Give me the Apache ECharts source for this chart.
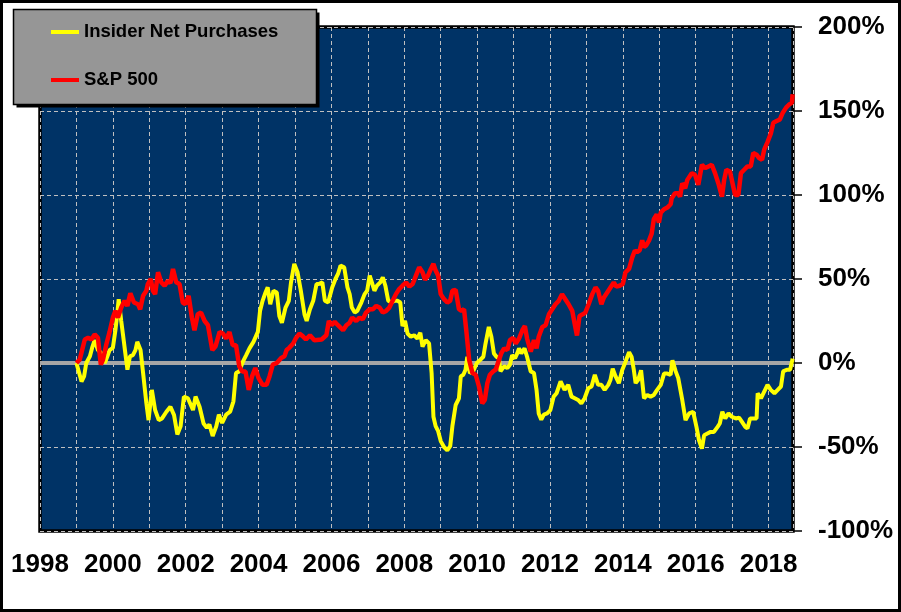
<!DOCTYPE html>
<html>
<head>
<meta charset="utf-8">
<title>Insider Net Purchases vs S&amp;P 500</title>
<script src="https://cdn.jsdelivr.net/npm/echarts@6/dist/echarts.min.js"></script>
<style>
  html, body { margin: 0; padding: 0; background: #fff; }
  #chart { width: 901px; height: 612px; }
</style>
</head>
<body>
<div id="chart"></div>
<script>
// x positions are decimal years, values are % change
var insiderDates = [
  1999.0, 1999.14, 1999.21, 1999.27, 1999.37, 1999.43, 1999.5, 1999.59, 1999.68, 1999.78,
  1999.85, 1999.91, 2000.0, 2000.07, 2000.12, 2000.16, 2000.23, 2000.32, 2000.4, 2000.47,
  2000.55, 2000.62, 2000.67, 2000.76, 2000.83, 2000.92, 2000.98, 2001.07, 2001.16, 2001.26,
  2001.35, 2001.47, 2001.58, 2001.68, 2001.77, 2001.86, 2001.95, 2002.06, 2002.1, 2002.2,
  2002.27, 2002.38, 2002.49, 2002.58, 2002.65, 2002.74, 2002.84, 2002.91, 2003.0, 2003.11,
  2003.22, 2003.31, 2003.38, 2003.47, 2003.57, 2003.66, 2003.75, 2003.86, 2003.98, 2004.04,
  2004.11, 2004.19, 2004.25, 2004.32, 2004.41, 2004.5, 2004.57, 2004.64, 2004.74, 2004.83,
  2004.89, 2004.98, 2005.07, 2005.16, 2005.26, 2005.32, 2005.41, 2005.5, 2005.59, 2005.65,
  2005.75, 2005.82, 2005.91, 2006.02, 2006.11, 2006.18, 2006.25, 2006.35, 2006.44, 2006.5,
  2006.56, 2006.64, 2006.71, 2006.82, 2006.91, 2006.98, 2007.05, 2007.11, 2007.18, 2007.25,
  2007.34, 2007.41, 2007.48, 2007.56, 2007.65, 2007.73, 2007.82, 2007.89, 2007.95, 2008.02,
  2008.09, 2008.18, 2008.27, 2008.36, 2008.44, 2008.5, 2008.59, 2008.68, 2008.75, 2008.8,
  2008.86, 2008.93, 2009.0, 2009.09, 2009.18, 2009.26, 2009.32, 2009.41, 2009.5, 2009.55,
  2009.62, 2009.68, 2009.73, 2009.8, 2009.89, 2009.99, 2010.08, 2010.17, 2010.23, 2010.32,
  2010.39, 2010.46, 2010.53, 2010.6, 2010.64, 2010.74, 2010.83, 2010.9, 2010.96, 2011.04,
  2011.1, 2011.15, 2011.21, 2011.3, 2011.37, 2011.47, 2011.56, 2011.63, 2011.69, 2011.76,
  2011.83, 2011.92, 2012.01, 2012.1, 2012.18, 2012.29, 2012.4, 2012.5, 2012.59, 2012.68,
  2012.77, 2012.86, 2012.95, 2013.05, 2013.14, 2013.23, 2013.32, 2013.41, 2013.5, 2013.6,
  2013.66, 2013.72, 2013.8, 2013.89, 2013.98, 2014.07, 2014.17, 2014.24, 2014.3, 2014.35,
  2014.42, 2014.5, 2014.58, 2014.67, 2014.76, 2014.85, 2014.94, 2015.04, 2015.13, 2015.22,
  2015.31, 2015.36, 2015.45, 2015.52, 2015.63, 2015.72, 2015.82, 2015.93, 2016.02, 2016.09,
  2016.17, 2016.23, 2016.32, 2016.41, 2016.5, 2016.6, 2016.66, 2016.73, 2016.81, 2016.9,
  2016.99, 2017.1, 2017.19, 2017.27, 2017.36, 2017.42, 2017.49, 2017.58, 2017.67, 2017.7,
  2017.79, 2017.88, 2017.97, 2018.06, 2018.16, 2018.25, 2018.34, 2018.4, 2018.5, 2018.59,
  2018.66
];
var insiderValues = [
  0, -11, -8, 0, 4, 9, 13.6, 7.7, 6, 0,
  4, 7.7, 9, 19.5, 29, 38, 25, 9.6, -4, 4,
  4.7, 7.7, 12.6, 7.7, -6, -24, -34, -16, -28, -34,
  -33, -29, -26, -31, -42.5, -37.6, -20, -21, -22, -28,
  -20, -26, -36, -38.6, -36.6, -43.5, -37.6, -30.7, -35.7, -30.7,
  -29, -22.8, -6, -5, 0.8, 4.7, 8.7, 12.6, 18.5, 31,
  37, 42, 45, 35, 43, 42, 28, 24, 33, 37,
  48, 59, 54, 43, 29, 25, 32, 37, 47, 47,
  48, 37, 36, 45, 50, 53, 58, 57, 45, 41,
  33, 30, 31, 36, 41, 43, 52, 48, 43, 46,
  48, 51, 46, 37, 36, 37, 37, 36, 22, 25,
  17.5, 15.6, 16.5, 14.6, 18, 9.7, 13.6, 11.6, -6, -32,
  -37.6, -40.6, -46.5, -50, -52, -49.5, -37.6, -25, -21, -8,
  -7, -4, 3.7, -6, -5, 0, 1.8, 3.7, 11.6, 21.5,
  15.6, 5.7, 3.7, 2.8, -5, -2, -3, -1, 4.7, 2.8,
  5.7, 8.7, 5.7, 8.7, 3.7, -5, -6, -16, -30, -33.7,
  -30.7, -30, -28, -20, -18, -11, -16, -13, -20, -21,
  -22, -24, -21, -15, -14, -7, -13, -13, -16, -13,
  -10, -3.4, -8, -12, -4.3, 0.6, 6.5, 3.6, -4, -12,
  -10, -4.3, -21, -19, -20, -19, -16, -13, -6.3, -6.3,
  -7, 1.6, -5, -9, -22, -34, -30, -29, -38, -46,
  -51, -43, -42, -41, -41, -38, -36, -29, -33, -30,
  -32, -33, -32.5, -35, -38, -39, -33, -33, -33, -18,
  -21, -17, -13, -16, -18, -16, -14, -5, -4, -4,
  2.6
];

var spDates = [
  1999.0, 1999.09, 1999.23, 1999.32, 1999.41, 1999.5, 1999.59, 1999.67, 1999.73, 1999.82,
  1999.91, 2000.0, 2000.07, 2000.14, 2000.23, 2000.32, 2000.4, 2000.48, 2000.58, 2000.69,
  2000.75, 2000.83, 2000.92, 2000.96, 2001.04, 2001.1, 2001.16, 2001.24, 2001.33, 2001.42,
  2001.51, 2001.58, 2001.65, 2001.74, 2001.83, 2001.92, 2001.99, 2002.08, 2002.17, 2002.24,
  2002.33, 2002.42, 2002.52, 2002.61, 2002.73, 2002.82, 2002.93, 2003.02, 2003.11, 2003.2,
  2003.29, 2003.38, 2003.47, 2003.55, 2003.64, 2003.73, 2003.82, 2003.91, 2004.0, 2004.11,
  2004.22, 2004.3, 2004.39, 2004.5, 2004.62, 2004.71, 2004.77, 2004.84, 2004.95, 2005.03,
  2005.12, 2005.21, 2005.3, 2005.41, 2005.53, 2005.73, 2005.86, 2005.93, 2006.0, 2006.09,
  2006.18, 2006.32, 2006.41, 2006.5, 2006.57, 2006.68, 2006.77, 2006.86, 2006.95, 2007.05,
  2007.14, 2007.23, 2007.32, 2007.41, 2007.5, 2007.59, 2007.68, 2007.77, 2007.86, 2007.95,
  2008.05, 2008.14, 2008.23, 2008.32, 2008.41, 2008.5, 2008.57, 2008.65, 2008.73, 2008.8,
  2008.86, 2008.93, 2009.0, 2009.09, 2009.18, 2009.26, 2009.32, 2009.41, 2009.5, 2009.57,
  2009.64, 2009.71, 2009.78, 2009.87, 2009.96, 2010.05, 2010.14, 2010.21, 2010.28, 2010.35,
  2010.44, 2010.51, 2010.57, 2010.66, 2010.74, 2010.83, 2010.9, 2010.99, 2011.06, 2011.15,
  2011.24, 2011.31, 2011.37, 2011.47, 2011.56, 2011.63, 2011.69, 2011.79, 2011.88, 2011.97,
  2012.06, 2012.15, 2012.24, 2012.33, 2012.42, 2012.51, 2012.61, 2012.68, 2012.74, 2012.81,
  2012.9, 2012.97, 2013.06, 2013.16, 2013.25, 2013.32, 2013.41, 2013.48, 2013.57, 2013.66,
  2013.75, 2013.82, 2013.91, 2014.0, 2014.07, 2014.17, 2014.26, 2014.33, 2014.39, 2014.46,
  2014.53, 2014.58, 2014.64, 2014.72, 2014.79, 2014.85, 2014.93, 2014.99, 2015.04, 2015.13,
  2015.22, 2015.31, 2015.34, 2015.43, 2015.52, 2015.57, 2015.63, 2015.71, 2015.77, 2015.89,
  2015.98, 2016.07, 2016.17, 2016.26, 2016.35, 2016.44, 2016.53, 2016.62, 2016.72, 2016.78,
  2016.84, 2016.94, 2017.01, 2017.08, 2017.17, 2017.24, 2017.33, 2017.42, 2017.51, 2017.58,
  2017.67, 2017.74, 2017.82, 2017.88, 2017.97, 2018.06, 2018.13, 2018.22, 2018.31, 2018.39,
  2018.48, 2018.57, 2018.64, 2018.66
];
var spValues = [
  0, 2, 14, 15, 14, 17, 15, -1, 2, 11,
  18.5, 27, 31, 27, 33, 37, 34, 41.5, 36, 35,
  32, 40, 43, 47, 50, 43, 41, 54, 48, 46,
  49, 47.5, 56, 48, 47, 36, 35, 40, 27, 19.5,
  29, 30, 25, 22.5, 7.7, 10, 18.5, 17.5, 14.6, 18.5,
  10.6, 10.6, -2, -5, -5, -16, -8, -3, -9, -13,
  -13, -8, -1, 0, 3, 4, 7.7, 9, 11.6, 15,
  17.5, 16, 14, 16.5, 13.6, 14, 16.5, 25, 22.5, 24.5,
  22.5, 19.5, 22.5, 24, 27, 25, 27, 26, 30, 32,
  32, 34, 33, 30, 31, 33, 37, 41, 44, 46,
  48, 45.5, 47, 52, 57, 54, 49.5, 52, 56, 59,
  55, 52, 41, 38, 36, 37, 43, 43.5, 32, 31,
  32, 17.5, 2, -6, -7, -14, -24, -22, -12, -7,
  -5, -4, 0, 5.7, 8.7, 7.7, 13.6, 15, 11.6, 14.6,
  19.5, 22, 14.6, 6.7, 13.6, 8.7, 15.6, 21.5, 22.5, 29,
  32, 35, 37, 41, 38, 35, 31, 23, 16.4, 28,
  29, 30, 35, 41, 45, 43, 35, 39, 42, 45,
  48, 45.5, 46, 47, 54, 56, 63, 67, 66, 67,
  73, 69, 70, 73, 77, 85.6, 88.5, 83.6, 89.5, 91.5,
  92.5, 94.5, 98, 101, 101, 99, 107, 104, 109, 113,
  112, 106, 118, 116, 117, 118, 113, 107, 99, 109,
  115, 114, 107, 100, 100, 113, 115, 117, 117, 125,
  124, 122, 121, 127, 131.5, 136.5, 143, 144, 145, 149,
  152, 154, 155, 160
];

var yTicks = [-100, -50, 0, 50, 100, 150, 200];
var yearFirst = 1998;
var yearLast = 2018.67;

function pairs(xs, ys) {
    return xs.map(function (x, i) { return [x, ys[i]]; });
}

var font = '"Liberation Sans", Arial, sans-serif';
var dom = document.getElementById('chart');
var myChart = echarts.init(dom, null, { renderer: 'canvas' });

var gridLine = { show: true, lineStyle: { color: '#c0c0c0', width: 1, type: [4, 3] } };

var option = {
    animation: false,
    backgroundColor: '#ffffff',
    grid: {
        left: 40, top: 27, right: 108, bottom: 81,
        show: true,
        backgroundColor: '#003366',
        borderColor: '#000',
        borderWidth: 3.5,
        containLabel: false,
        outerBoundsMode: 'none'
    },
    legend: {
        left: 13, top: 9,
        orient: 'vertical',
        data: ['Insider Net Purchases', 'S&P 500'],
        icon: 'rect',
        itemWidth: 28, itemHeight: 4,
        itemGap: 28,
        padding: [13, 30, 14, 38],
        z: 10,
        textStyle: { fontFamily: font, fontWeight: 'bold', fontSize: 18.5, lineHeight: 20, color: '#000' }
    },
    xAxis: {
        type: 'value',
        min: yearFirst, max: yearLast, interval: 1,
        axisLine: { show: false },
        axisTick: { show: false },
        splitLine: gridLine,
        axisLabel: {
            margin: 21,
            fontFamily: font, fontWeight: 'bold', fontSize: 26, color: '#000',
            formatter: function (v) {
                var r = Math.round(v);
                return (Math.abs(v - r) < 1e-6 && r % 2 === 0) ? String(r) : '';
            }
        }
    },
    yAxis: {
        type: 'value',
        position: 'right',
        min: yTicks[0], max: yTicks[yTicks.length - 1], interval: 50,
        axisLine: { show: false },
        axisTick: { show: true, inside: false, length: 9, lineStyle: { color: '#000', width: 1.5 } },
        splitLine: gridLine,
        axisLabel: {
            margin: 25, align: 'left',
            fontFamily: font, fontWeight: 'bold', fontSize: 26, color: '#000',
            formatter: '{value}%'
        }
    },
    series: [
        {
            name: 'Insider Net Purchases',
            type: 'line',
            data: pairs(insiderDates, insiderValues),
            showSymbol: false,
            symbol: 'none',
            color: '#ffff00',
            lineStyle: { color: '#ffff00', width: 4 },
            markLine: {
                silent: true,
                z: 1,
                symbol: 'none',
                label: { show: false },
                lineStyle: { color: '#a6a6a6', width: 4, type: 'solid' },
                data: [{ yAxis: 0 }]
            }
        },
        {
            name: 'S&P 500',
            type: 'line',
            data: pairs(spDates, spValues),
            showSymbol: false,
            symbol: 'none',
            color: '#ff0000',
            lineStyle: { color: '#ff0000', width: 4.5 }
        }
    ],
    graphic: [
        {
            // legend box shadow
            type: 'rect', z: 8, silent: true,
            shape: { x: 16.5, y: 12.5, width: 303, height: 95 },
            style: { fill: '#000' }
        },
        {
            // legend box
            type: 'rect', z: 9, silent: true,
            shape: { x: 13.5, y: 9.5, width: 303, height: 95 },
            style: { fill: '#969696', stroke: '#000', lineWidth: 1.5 }
        },
        {
            type: 'rect', z: 100, silent: true,
            shape: { x: 1.5, y: 1.5, width: 898, height: 609 },
            style: { fill: 'none', stroke: '#000', lineWidth: 3 }
        }
    ]
};

myChart.setOption(option);
window.addEventListener('resize', myChart.resize);
</script>
</body>
</html>
